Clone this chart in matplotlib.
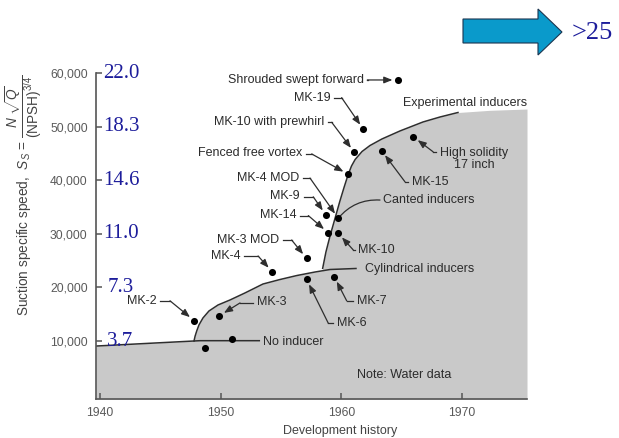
import matplotlib
matplotlib.use('Agg')
import matplotlib.pyplot as plt
from matplotlib.patches import Polygon

plt.rcParams['font.family'] = ['Liberation Sans', 'DejaVu Sans']
plt.rcParams['mathtext.fontset'] = 'custom'
plt.rcParams['mathtext.rm'] = 'Liberation Sans'
plt.rcParams['mathtext.it'] = 'Liberation Sans:italic'

# Inducer test points: year and suction specific speed (US units)
dot_names = ['Shrouded swept forward', 'MK-19', 'MK-10 with prewhirl', 'Fenced free vortex',
             'MK-4 MOD', 'MK-9', 'MK-14', 'MK-10', 'MK-3 MOD', 'MK-4', 'MK-6', 'MK-7',
             'MK-3', 'MK-2', 'MK-15', 'High solidity\n17 inch', 'No inducer', 'No inducer']
dot_year = [1964.69, 1961.82, 1961.07, 1960.57, 1959.74, 1958.72, 1958.91, 1959.74, 1957.12,
            1954.28, 1957.12, 1959.41, 1949.88, 1947.81, 1963.34, 1965.96, 1950.91, 1948.70]
dot_ss = [58700, 49500, 45200, 41100, 32900, 33500, 30200, 30100, 25400,
          22900, 21500, 22000, 14700, 13800, 45500, 48100, 10300, 8650]

# Envelope curves
no_ind_year = [1939.67, 1948.3, 1953.2]
no_ind_ss = [9060, 10060, 10060]
cyl_year = [1947.79, 1947.88, 1948.02, 1948.20, 1948.53, 1949.03, 1949.78, 1950.77, 1952.01,
            1953.50, 1954.91, 1956.32, 1957.81, 1959.06, 1961.21]
cyl_ss = [10000, 10900, 11900, 12990, 14290, 15600, 16720, 17650, 18960,
          20630, 21470, 22220, 22870, 23340, 23530]
exp_year = [1958.45, 1958.72, 1959.06, 1959.47, 1959.88, 1960.22, 1960.55, 1960.84, 1961.14,
            1961.71, 1962.37, 1963.36, 1964.85, 1966.76, 1968.17, 1969.66, 1972.31, 1975.38]
exp_ss = [23560, 26600, 29590, 32850, 36120, 38640, 40970, 42650, 43860,
          45350, 46470, 47690, 49180, 50860, 51790, 52630, 53040, 53280]
exp_line_end = 1969.66

ss_ticks = [10000, 20000, 30000, 40000, 50000, 60000]
ss_metric = ['3.7', '7.3', '11.0', '14.6', '18.3', '22.0']
year_ticks = [1940, 1950, 1960, 1970]

# leader layout: dot index -> (text x, text y, ha, elbow x, elbow y)
leaders = {
    0: (1961.87, 58700, 'right', 1962.15, 58700),
    1: (1959.10, 55400, 'right', 1960.02, 55400),
    2: (1958.56, 50800, 'right', 1959.20, 50800),
    3: (1956.80, 45100, 'right', 1957.54, 44900),
    4: (1956.49, 40500, 'right', 1957.40, 40400),
    5: (1956.57, 37000, 'right', 1957.67, 36900),
    6: (1956.30, 33500, 'right', 1957.26, 33400),
    7: (1961.40, 27000, 'left', 1960.98, 27000),
    8: (1954.83, 28840, 'right', 1955.88, 28840),
    9: (1951.66, 25860, 'right', 1953.10, 25860),
    10: (1959.60, 13300, 'left', 1958.92, 13300),
    11: (1961.26, 17500, 'left', 1960.44, 17500),
    12: (1952.97, 17250, 'left', 1951.60, 17100),
    13: (1944.69, 17500, 'right', 1945.80, 17500),
    14: (1965.82, 39700, 'left', 1965.27, 39700),
    15: (1968.17, 43950, 'left', 1967.60, 45300),
}

GRAY_FILL = '#c9c9c9'
LINE = '#2e2e2e'
TEXT = '#2b2b2b'
AXIS = '#555555'
BLUE = '#1d1d9b'
Y_BOTTOM = -820


def draw_leader(ax, i):
    tx, ty, ha, ex, ey = leaders[i]
    ax.text(tx, ty, dot_names[i], ha=ha, va='center', fontsize=9, color=TEXT,
            multialignment='center', linespacing=1.0)
    sx = tx + 0.3 if ha == 'right' else tx - 0.3
    ax.plot([sx, ex], [ey, ey], color=LINE, lw=0.9)
    ax.annotate('', xy=(dot_year[i], dot_ss[i]), xytext=(ex, ey),
                arrowprops=dict(arrowstyle='-|>,head_length=0.5,head_width=0.2',
                                color=LINE, lw=0.9, shrinkA=0, shrinkB=4))


def main():
    fig = plt.figure(figsize=(6.19, 4.38), dpi=100)
    ax = fig.add_axes([96 / 619, 39 / 438, 431 / 619, 326 / 438])
    ax.set_xlim(1939.67, 1975.38)
    ax.set_ylim(Y_BOTTOM, 60000)

    # shaded envelope
    for xs, ys in [(no_ind_year, no_ind_ss), (cyl_year, cyl_ss), (exp_year, exp_ss)]:
        ax.fill_between(xs, ys, Y_BOTTOM, color=GRAY_FILL, lw=0, zorder=1)

    ax.plot(no_ind_year, no_ind_ss, color=LINE, lw=1.1, zorder=2)
    ax.plot(cyl_year, cyl_ss, color=LINE, lw=1.1, zorder=2)
    n_line = exp_year.index(exp_line_end) + 1
    ax.plot(exp_year[:n_line], exp_ss[:n_line], color=LINE, lw=1.1, zorder=2)

    ax.scatter(dot_year, dot_ss, s=26, color='black', zorder=4, lw=0)

    for i in leaders:
        draw_leader(ax, i)

    # curve labels
    ax.text(1953.48, 9900, 'No inducer', ha='left', va='center', fontsize=9, color=TEXT)
    ax.text(1961.96, 23450, 'Cylindrical inducers', ha='left', va='center', fontsize=9, color=TEXT)
    ax.text(1965.10, 54350, 'Experimental inducers', ha='left', va='center', fontsize=9, color=TEXT)
    ax.text(1963.41, 36300, 'Canted inducers', ha='left', va='center', fontsize=9, color=TEXT)
    ax.annotate('', xy=(1963.2, 36300), xytext=(dot_year[4], dot_ss[4]),
                arrowprops=dict(arrowstyle='-', color=LINE, lw=0.9, shrinkA=0, shrinkB=0,
                                connectionstyle='arc3,rad=-0.25'))
    ax.text(1961.26, 3660, 'Note: Water data', ha='left', va='center', fontsize=9, color=TEXT)

    # axes styling
    for side in ['top', 'right']:
        ax.spines[side].set_visible(False)
    for side in ['left', 'bottom']:
        ax.spines[side].set_color(AXIS)
        ax.spines[side].set_linewidth(1.2)
    ax.set_yticks(ss_ticks)
    ax.set_yticklabels(['{:,}'.format(v) for v in ss_ticks])
    ax.set_xticks(year_ticks)
    ax.tick_params(direction='in', length=4, width=1.1, color=AXIS, labelcolor='#5a5a5a',
                   labelsize=8.7)
    ax.tick_params(axis='y', pad=6)
    ax.tick_params(axis='x', pad=6)
    ax.set_facecolor('none')

    # metric equivalents next to the US-unit ticks
    for k, (v, s) in enumerate(zip(ss_ticks, ss_metric)):
        xoff = 0.026 if k < 2 else 0.016
        ax.text(xoff, v, s, transform=ax.get_yaxis_transform(), ha='left', va='center',
                fontsize=15, color=BLUE, family='Liberation Serif', zorder=5)

    fig.text(340 / 619, 1 - 431 / 438, 'Development history', ha='center', va='center',
             fontsize=9, color='#444444')
    fig.text(24 / 619, 1 - 195 / 438,
             r'Suction specific speed,  $S_S$ = $\dfrac{N\ \sqrt{Q}}{\mathrm{(NPSH)}^{3/4}}$',
             rotation=90, ha='center', va='center', fontsize=9.8, color='#444444')

    # block arrow pointing to ">25"
    W, H = 619.0, 438.0
    arrow_px = [(463, 19), (538, 19), (538, 9), (562, 32), (538, 55), (538, 43), (463, 43)]
    arrow = Polygon([(x / W, 1 - y / H) for x, y in arrow_px], closed=True,
                    facecolor='#0a9acb', edgecolor='#1b3550', lw=0.8, transform=fig.transFigure)
    fig.add_artist(arrow)
    fig.text(572 / W, 1 - 33 / H, '>25', ha='left', va='center', fontsize=19,
             color=BLUE, family='Liberation Serif')

    fig.savefig('out.png', dpi=100)


if __name__ == '__main__':
    main()
